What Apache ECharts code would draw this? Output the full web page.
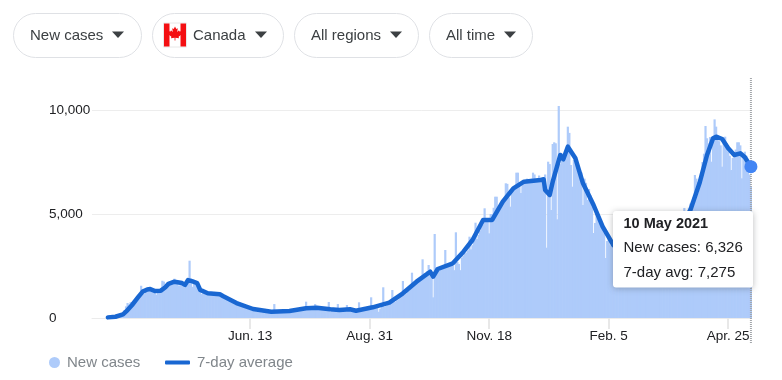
<!DOCTYPE html>
<html><head><meta charset="utf-8">
<style>html,body{margin:0;padding:0;background:#fff}#c{width:782px;height:380px}</style>
<script src="https://cdn.jsdelivr.net/npm/echarts@6/dist/echarts.min.js"></script>
</head><body><div id="c"></div>
<script>
const FONT = '"Liberation Sans", Arial, sans-serif';
const leadDays = 10;            // blank days on the axis before the first report
const firstDate = '2020-03-01';
const tickIndexes = [104, 183, 262, 341, 420];
const tickLabels = ['Jun. 13', 'Aug. 31', 'Nov. 18', 'Feb. 5', 'Apr. 25'];

const newCases = [
10,20,30,40,60,70,90,110,130,150,
250,380,560,720,650,760,700,640,760,800,
900,1100,1550,1200,1150,1250,1420,1480,1400,1380,
1450,1400,1120,1350,1300,1280,1790,1750,1500,1550,
1600,1700,1780,1650,1890,1780,1700,1550,1700,1650,
1620,1650,1600,1700,2755,1900,1500,1700,1600,1500,
1650,1450,1150,1300,1200,1180,1230,1180,1150,1170,
1160,1130,1150,1180,1120,1160,1100,1070,1030,1000,
980,940,900,870,830,790,780,760,700,670,
640,610,560,540,500,470,430,440,420,400,
410,390,380,370,360,350,340,320,300,290,
670,320,290,280,300,310,340,300,290,300,
290,260,280,310,340,350,370,360,380,420,
480,785,480,520,500,490,560,670,480,470,
450,480,470,420,400,430,770,300,400,450,
430,410,670,380,370,410,430,420,625,390,
410,380,340,300,350,400,755,370,330,340,
380,420,430,480,995,450,500,470,500,300,
450,620,1476,540,600,650,700,730,1346,800,
780,850,900,1000,1080,1779,1100,1150,1250,1300,
1400,2178,1500,1620,1700,1800,1900,2000,2822,2150,
2050,2250,2548,2300,2200,995,4039,2450,2400,2350,
2450,2500,2450,3270,2500,2550,2600,2550,2500,2300,
4120,2700,2600,2300,2900,3000,3100,3150,3250,3909,
3300,3500,3700,4582,3800,4000,4200,4400,4500,5274,
4800,4800,4070,5000,5000,5300,5832,5832,5100,5300,
5400,5500,5700,6476,6450,5800,5352,6100,6200,6300,
6987,6987,6400,6010,6500,6500,6600,6700,6500,6650,
6700,6987,6900,6600,6700,6850,6600,6650,6700,6900,
3380,7515,7400,5193,8366,8447,8400,4745,10193,7400,
7918,7500,7800,8000,9198,8900,7355,6313,7600,7700,
7300,7000,7150,7000,5433,6700,6500,5673,6200,5900,
5700,4087,4568,5000,4800,4600,4400,4300,4100,2885,
3700,3800,3500,3600,3400,3300,3200,3100,3000,3100,
3000,2900,2800,2950,2850,2900,2700,2800,2900,2850,
2900,2950,2800,2900,3000,3100,2900,3000,3100,3200,
3100,3200,3300,3200,3300,3400,3300,3400,3500,3600,
3500,3700,3800,3700,3900,4000,4200,4100,4300,4500,
4700,5290,5000,4800,5300,5500,5600,5800,6876,6700,
6000,6200,6800,7500,7900,9231,8640,8400,8700,7515,
8500,9550,9200,8800,8500,8300,7275,8500,8717,8400,
8000,7800,7115,7700,7900,8100,8447,8447,8300,6715,
7700,7995,7800,7400,6900,6326
];
const avgDays = [0,5,10,13,16,20,23,26,28,31,35,38,40,44,49,51,53,56,59,61,66,74,76,85,96,108,120,131,138,147,153,160,164,175,186,195,204,213,215,218,228,235,241,248,254,261,268,275,286,288,289,292,294,299,301,304,309,314,321,327,334,345,360,370,378,385,391,396,400,402,406,410,414,418,421,425];
const avgValues = [30,60,178,380,625,1000,1270,1370,1390,1300,1315,1480,1640,1745,1680,1590,1825,1760,1680,1350,1190,1140,1058,720,433,300,336,466,495,418,385,418,350,514,736,1187,1746,2226,1986,2356,2630,3188,3750,4712,4712,5592,6236,6554,6635,6670,6154,5914,6554,7837,7630,8237,7678,6476,5433,4390,3510,3000,3050,3500,4300,5193,6476,7837,8640,8717,8606,8159,7837,7918,7726,7275];

const pillLabels = ['New cases', 'Canada', 'All regions', 'All time'];
const tipLines = ['10 May 2021', 'New cases: 6,326', '7-day avg: 7,275'];

const start = new Date(firstDate + 'T00:00:00Z');
const categories = [];
for (let i = 0; i < leadDays + newCases.length; i++) {
  categories.push(new Date(start.getTime() + i * 864e5).toISOString().slice(0, 10));
}
const barData = new Array(leadDays).fill(null).concat(newCases);
const lineData = avgDays.map((d, i) => [d + leadDays, avgValues[i]]);
const lastIndex = categories.length - 1;
const lastAvg = avgValues[avgValues.length - 1];

function pill(x, w, label, textX, triX) {
  return [
    {type:'rect', z:50, shape:{x:x+.5, y:13.5, width:w, height:44, r:22}, style:{fill:'#fff', stroke:'#dfe1e5', lineWidth:1}},
    {type:'text', z:51, style:{text:label, x:textX, y:36, font:'15px '+FONT, fill:'#3c4043', verticalAlign:'middle'}},
    {type:'polygon', z:51, shape:{points:[[triX,31.5],[triX+12,31.5],[triX+6,38]]}, style:{fill:'#3c4043'}}
  ];
}
const leaf = [[175,26.5],[176.3,29],[177.8,28.3],[177.2,32],[179,30.2],[179.5,31.6],[181.5,31.2],[180.8,33.6],[181.8,34.2],[178.6,36.8],[179,38.2],[175.4,37.8],[175.4,40.5],[174.6,40.5],[174.6,37.8],[171,38.2],[171.4,36.8],[168.2,34.2],[169.2,33.6],[168.5,31.2],[170.5,31.6],[171,30.2],[172.8,32],[172.2,28.3],[173.7,29]];

const uiGraphics = [].concat(
  pill(13, 128, pillLabels[0], 30, 112),
  pill(152, 131, pillLabels[1], 193, 255),
  pill(294, 124, pillLabels[2], 311, 390),
  pill(429, 103, pillLabels[3], 446, 504),
  [
    {type:'rect', z:52, shape:{x:163.5, y:23, width:23, height:24}, style:{fill:'#fff', stroke:'#e8e8e8', lineWidth:1}},
    {type:'rect', z:53, shape:{x:164, y:23.5, width:5.5, height:23}, style:{fill:'#f40f12'}},
    {type:'rect', z:53, shape:{x:180.5, y:23.5, width:5.5, height:23}, style:{fill:'#f40f12'}},
    {type:'polygon', z:53, shape:{points:leaf}, style:{fill:'#f40f12'}},
    {type:'rect', z:100, shape:{x:613, y:211, width:140, height:76.5, r:3},
      style:{fill:'#fff', shadowBlur:6, shadowColor:'rgba(60,64,67,.35)', shadowOffsetY:1}},
    {type:'text', z:101, style:{text:tipLines[0], x:623.5, y:224, font:'bold 14.5px '+FONT, fill:'#202124', verticalAlign:'middle'}},
    {type:'text', z:101, style:{text:tipLines[1], x:623.5, y:248, font:'15px '+FONT, fill:'#202124', verticalAlign:'middle'}},
    {type:'text', z:101, style:{text:tipLines[2], x:623.5, y:273, font:'15px '+FONT, fill:'#202124', verticalAlign:'middle'}}
  ]
);

const chart = echarts.init(document.getElementById('c'), null, {renderer:'canvas'});
const dayW = 1.513;
const showTick = (i) => tickIndexes.indexOf(i) >= 0;
chart.setOption({
  animation:false,
  textStyle:{fontFamily:FONT},
  grid:{left:92, top:110, width:dayW*categories.length, height:208, containLabel:false},
  xAxis:{type:'category', data:categories, boundaryGap:true,
    axisLine:{lineStyle:{color:'#ebebeb', width:1}},
    axisTick:{show:true, interval:showTick, alignWithLabel:true, length:11, lineStyle:{color:'#e8e8e8', width:2}},
    axisLabel:{interval:showTick, margin:11.5, fontSize:13.5, color:'#202124', fontFamily:FONT,
      formatter:(v, i) => tickLabels[tickIndexes.indexOf(i)] || ''},
    splitLine:{show:false}},
  yAxis:{type:'value', min:0, max:10000, interval:5000,
    axisLine:{show:false}, axisTick:{show:false},
    splitLine:{lineStyle:{color:'#ededed', width:1}},
    axisLabel:{align:'left', margin:43, fontSize:13.5, color:'#202124', fontFamily:FONT,
      formatter:(v) => v.toLocaleString('en-US')}},
  legend:[
    {data:[{name:'New cases', icon:'circle'}], left:44, top:350, itemWidth:11, itemHeight:11,
      textStyle:{fontSize:15, color:'#80868b', fontFamily:FONT, padding:[0,0,0,2]}},
    {data:[{name:'7-day average', icon:'roundRect'}], left:160, top:350, itemWidth:25, itemHeight:4,
      textStyle:{fontSize:15, color:'#80868b', fontFamily:FONT, padding:[0,0,0,2]}}
  ],
  series:[
    {name:'New cases', type:'bar', data:barData, barWidth:2.2, clip:false,
      itemStyle:{color:'#aecbfa'}, emphasis:{disabled:true}, z:2},
    {name:'7-day average', type:'line', data:lineData, showSymbol:false, symbol:'none',
      lineStyle:{color:'#1967d2', width:4.5, cap:'round', join:'round'}, itemStyle:{color:'#1967d2'}, z:3, clip:false,
      markPoint:{silent:true, symbol:'circle', symbolSize:13, itemStyle:{color:'#4285f4'}, label:{show:false},
        data:[{coord:[lastIndex, lastAvg]}]}}
  ],
  graphic:{elements:uiGraphics}
});
const cursorX = chart.convertToPixel({xAxisIndex:0}, lastIndex);
chart.setOption({graphic:{elements:uiGraphics.concat([
  {type:'line', z:4, silent:true, shape:{x1:cursorX, y1:78, x2:cursorX, y2:343},
    style:{stroke:'#a3a6aa', lineWidth:2, lineDash:[1,1]}}
])}});
</script></body></html>
